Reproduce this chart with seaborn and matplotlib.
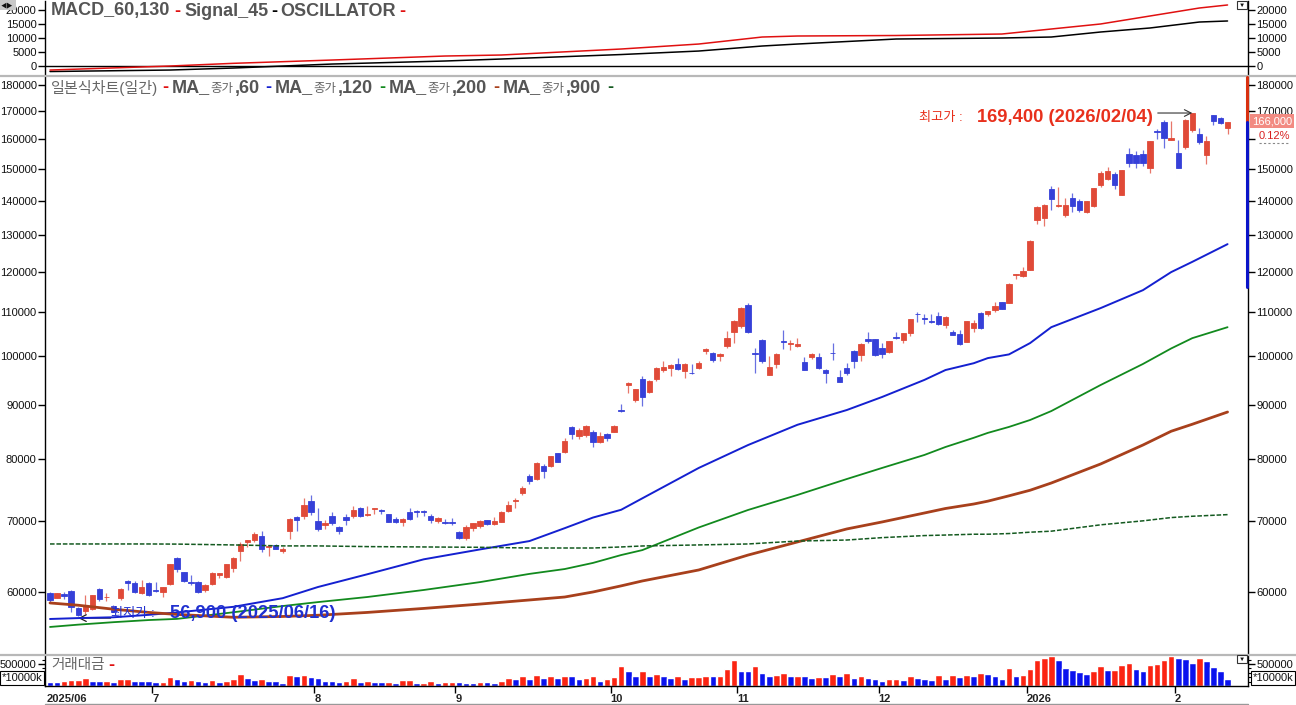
import numpy as np
import seaborn as sns
import matplotlib.pyplot as plt
from matplotlib.ticker import FixedLocator, FixedFormatter, NullLocator

# daily candles (won)
opens = [
    59900, 59250, 59750, 60100, 58000, 57550, 57800, 60400, 59300, 58200,
    59200, 61400, 61200, 59900, 61200, 60200, 60000, 61000, 64600, 62650,
    61300, 61300, 60300, 61000, 62300, 62000, 63200, 65600, 66900, 67100,
    67800, 66100, 66500, 65600, 68500, 70600, 70700, 73000, 70000, 69400,
    70800, 69000, 70600, 70700, 72000, 70900, 71800, 71700, 71000, 70300,
    69900, 71400, 71500, 71450, 70700, 69950, 69900, 69900, 68300, 67450,
    68950, 69200, 70150, 69500, 69900, 71500, 73100, 74300, 77200, 76600,
    78850, 78800, 81000, 81300, 85800, 84100, 84300, 84900, 83000, 84500,
    84900, 89100, 94000, 90900, 95200, 92500, 95200, 97100, 97500, 98400,
    96900, 96500, 97500, 101100, 100700, 100000, 102200, 105300, 106800, 111800,
    100800, 103600, 96100, 98300, 103400, 102800, 102300, 98800, 99800, 99800,
    97100, 100800, 95600, 97500, 101100, 100200, 103700, 103800, 101800, 100900,
    104300, 103600, 105100, 109700, 108700, 108000, 109100, 106900, 105400, 105000,
    103200, 106300, 109900, 109500, 110500, 112400, 112300, 119200, 119100, 120600,
    134400, 134900, 143700, 138400, 135800, 141000, 140000, 136700, 138600, 144900,
    146800, 148400, 141800, 155000, 154700, 155000, 150400, 162800, 166200, 159800,
    155400, 157500, 163300, 162000, 154700, 168600, 167600, 164000,
]
highs = [
    59950, 59900, 59950, 60200, 58100, 59600, 59650, 60500, 59900, 58300,
    60500, 61600, 61400, 61600, 61300, 61300, 60700, 63800, 64700, 62700,
    62250, 61400, 61000, 62600, 62550, 63800, 64700, 66800, 67200, 68300,
    68500, 66500, 66600, 66200, 70400, 70700, 73500, 74000, 71900, 70100,
    71300, 69200, 71000, 72300, 72100, 72300, 72000, 71800, 71100, 70600,
    70500, 72000, 71700, 71700, 71000, 70600, 70300, 70500, 68500, 69300,
    69700, 70100, 70200, 70600, 71500, 73000, 73500, 75500, 77500, 79500,
    79100, 80600, 81100, 83700, 85900, 85600, 86200, 85300, 84900, 84700,
    86200, 90100, 94500, 93200, 95800, 94900, 97600, 99000, 98300, 99600,
    98500, 98400, 98900, 101700, 101000, 100800, 105600, 108100, 111300, 112200,
    101800, 103800, 100000, 100600, 105900, 103600, 104000, 99800, 100800, 100800,
    97300, 103000, 97000, 98600, 101300, 102900, 105400, 103900, 103000, 103400,
    105400, 105200, 108500, 110000, 109600, 109600, 110000, 109000, 105800, 105800,
    108000, 108200, 110000, 110400, 112500, 112500, 117100, 119600, 121300, 128600,
    138600, 139000, 144700, 144300, 141000, 142400, 140600, 140100, 144100, 149400,
    150800, 149000, 149800, 157000, 156000, 156400, 159600, 163700, 166900, 166400,
    159700, 167100, 169400, 164000, 161000, 168800, 168000, 166200,
]
lows = [
    58700, 59200, 59100, 57400, 56900, 57200, 57700, 58900, 58900, 57400,
    59000, 60200, 59900, 59800, 59500, 60000, 59400, 60900, 62650, 61300,
    60900, 59900, 60000, 60900, 61800, 61900, 62600, 64200, 66200, 66900,
    65400, 64800, 65800, 65300, 67300, 68500, 70300, 70900, 68500, 68700,
    69300, 68100, 69400, 70400, 70600, 70800, 71100, 71000, 69800, 69600,
    69200, 70200, 70600, 70700, 69700, 69700, 69500, 69400, 67300, 67100,
    68500, 68900, 69400, 69400, 69800, 71300, 72000, 74000, 75800, 76500,
    76800, 78700, 79500, 81000, 83600, 83600, 83900, 82100, 82900, 83200,
    84800, 88600, 92300, 90600, 89800, 92400, 94800, 96700, 95800, 97100,
    95400, 96200, 97300, 100400, 98800, 99000, 101800, 103000, 106400, 105200,
    96400, 98500, 96000, 97500, 101500, 101300, 102100, 97000, 99300, 97300,
    94300, 99200, 94500, 96000, 97500, 99000, 102900, 100100, 99700, 100800,
    103800, 102900, 104500, 107700, 107200, 107400, 107100, 106200, 104600, 102500,
    103100, 105500, 106000, 109200, 110000, 110700, 112200, 118200, 118800, 120500,
    133200, 132500, 137300, 138300, 135300, 136700, 136700, 136500, 138200, 144300,
    146500, 143600, 141700, 150700, 150300, 151000, 148700, 160100, 157000, 159700,
    150300, 156800, 162700, 158400, 151800, 165000, 165500, 162000,
]
closes = [
    59000, 59850, 59500, 58050, 57100, 58180, 59600, 59100, 59400, 57450,
    60400, 61200, 60000, 60600, 59600, 60100, 60650, 63750, 63100, 61450,
    61150, 60000, 60900, 62500, 62500, 63700, 64600, 66600, 67100, 68000,
    65800, 66300, 65900, 65800, 70300, 70200, 72400, 71300, 68700, 69600,
    69700, 68500, 70100, 71600, 70700, 71000, 71900, 71500, 69900, 69900,
    70300, 70300, 71300, 71400, 70100, 70500, 69600, 69600, 67450, 69000,
    69600, 70000, 69450, 70000, 71350, 72450, 73300, 75150, 76300, 79400,
    78000, 80500, 79600, 83200, 84500, 85300, 86000, 83000, 84200, 83800,
    86000, 88900, 94300, 93100, 91500, 94800, 97500, 97700, 98100, 97300,
    98400, 96400, 98600, 101600, 99200, 100400, 104000, 108000, 111000, 105300,
    100500, 99000, 97600, 100400, 103200, 103000, 102600, 97100, 100400, 97500,
    96400, 100600, 94600, 96400, 99000, 102800, 103300, 100200, 100400, 103300,
    104100, 105100, 108400, 109500, 108500, 107800, 107200, 108900, 104700, 102700,
    107900, 107400, 106300, 110300, 111400, 110800, 117000, 119400, 120300, 128500,
    138200, 138900, 140600, 138800, 138900, 138600, 137300, 140000, 144000, 148700,
    149400, 144900, 149700, 152000, 152000, 152000, 159500, 162400, 160500, 160500,
    150400, 167000, 169400, 159100, 159400, 166500, 165800, 166000,
]

volumes = [
    91000, 91000, 114000, 137000, 137000, 175000, 114000, 114000, 114000, 91000,
    160000, 160000, 114000, 114000, 114000, 91000, 99000, 213000, 160000, 114000,
    137000, 114000, 91000, 137000, 91000, 114000, 160000, 274000, 175000, 137000,
    160000, 114000, 114000, 61000, 251000, 228000, 251000, 198000, 175000, 114000,
    114000, 91000, 114000, 175000, 91000, 114000, 91000, 91000, 91000, 76000,
    137000, 137000, 76000, 76000, 114000, 76000, 99000, 99000, 99000, 76000,
    76000, 99000, 99000, 76000, 114000, 175000, 160000, 220000, 160000, 243000,
    182000, 220000, 182000, 236000, 220000, 160000, 182000, 220000, 114000, 160000,
    198000, 456000, 334000, 236000, 334000, 220000, 274000, 236000, 182000, 236000,
    160000, 198000, 198000, 236000, 220000, 220000, 380000, 593000, 334000, 334000,
    456000, 296000, 236000, 251000, 296000, 220000, 220000, 220000, 182000, 198000,
    198000, 274000, 236000, 296000, 182000, 236000, 182000, 160000, 114000, 160000,
    160000, 137000, 228000, 182000, 160000, 137000, 258000, 160000, 243000, 205000,
    258000, 236000, 304000, 274000, 236000, 160000, 410000, 236000, 258000, 388000,
    593000, 631000, 669000, 593000, 410000, 372000, 319000, 274000, 350000, 456000,
    357000, 357000, 479000, 517000, 388000, 334000, 471000, 502000, 593000, 669000,
    631000, 608000, 517000, 631000, 570000, 433000, 334000, 160000,
]
# r/b for each volume bar
volume_colors = (
    "bbrrrrbbrb" "rrbbbbrrbb" "rbbrbrrrbb" "rbbbrbrbbb" "bbrrbrbbrb"
    "rrbrrbrrbb" "brbbrrbrbr" "brbrbbrrbr" "rrbbrbrbbr" "brrrbrrrbb"
    "rbbrrbrbbr" "brbrbrbbbr" "rbrbbbrbrb" "rbrbbbrbrr" "rrrbbbbbrr"
    "brrrbbrrrr" "bbbrbbbb"
)

# moving averages, read at these candle numbers
ma_days = [0, 4, 9, 14, 18, 26, 33, 38, 45, 53, 61, 68, 73, 77, 81, 84, 92, 99, 106, 113,
           118, 124, 127, 131, 133, 136, 139, 142, 149, 155, 159, 162, 167]
ma_60 = [56590, 56700, 56800, 57100, 57400, 58100, 59200, 60650, 62350, 64400,
         65800, 67000, 68900, 70500, 71700, 73500, 78500, 82500, 86200, 89000,
         91550, 95000, 97060, 98500, 99600, 100400, 102900, 106500, 111000, 115400,
         120000, 122700, 127500]
ma_120 = [55620, 55900, 56200, 56460, 56600, 57420, 58200, 58700, 59350, 60260,
          61300, 62400, 63060, 63900, 65000, 65700, 69000, 71670, 74040, 76640,
          78500, 80740, 82150, 83800, 84700, 85800, 87100, 88800, 93960, 98340,
          101700, 104000, 106500]
ma_200 = [58590, 58300, 57800, 57400, 57150, 56800, 56900, 57050, 57400, 57900,
          58450, 58970, 59350, 60000, 60800, 61450, 62930, 65000, 66870, 68780,
          69830, 71200, 71900, 72600, 73050, 73900, 74800, 75980, 79180, 82500,
          85000, 86300, 88620]
ma_900 = [66580, 66580, 66580, 66580, 66560, 66440, 66300, 66300, 66200, 66150,
          66100, 66000, 66000, 66000, 66150, 66290, 66440, 66580, 67000, 67150,
          67500, 67800, 67880, 68000, 68000, 68100, 68300, 68450, 69400, 70000,
          70500, 70700, 70950]

macd_days = [0, 17, 26, 40, 56, 64, 81, 92, 101, 106, 120, 135, 142, 149, 156, 163, 167]
macd = [-1430, 0, 960, 2140, 3570, 3930, 6070, 7850, 10350, 10710, 10890, 11420,
        13210, 15000, 17850, 20700, 21780]
signal = [-1960, -1430, -710, 710, 1790, 2500, 4100, 5350, 7140, 7850, 9640, 10000,
          10350, 12140, 13570, 15700, 16070]

price_ticks = [60000, 70000, 80000, 90000, 100000, 110000, 120000, 130000, 140000,
               150000, 160000, 170000, 180000]
macd_ticks = [0, 5000, 10000, 15000, 20000]
month_pos = [14.5, 37.5, 57.5, 79.5, 97.5, 117.5, 138.5, 159.5]
month_labels = ["7", "8", "9", "10", "11", "12", "2026", "2"]

W, H = 1296, 705
RED = "#e04a38"
BLUE = "#3640d8"
LEFT, RIGHT = 45, 1248


def panel(top, bottom):
    # axes from pixel box
    return fig.add_axes([LEFT / W, 1 - bottom / H, (RIGHT - LEFT) / W, (bottom - top) / H])


def label(x, y, s, **kw):
    kw.setdefault("va", "center")
    kw.setdefault("ha", "left")
    fig.text(x / W, 1 - y / H, s, **kw)


def rule(x0, y0, x1, y1, **kw):
    fig.add_artist(plt.Line2D([x0 / W, x1 / W], [1 - y0 / H, 1 - y1 / H], **kw))


sns.set_theme(style="white")
plt.rcParams["font.family"] = ["Liberation Sans", "Noto Sans CJK KR", "DejaVu Sans"]
plt.rcParams["axes.linewidth"] = 1.0

fig = plt.figure(figsize=(W / 100, H / 100), dpi=100, facecolor="white")
ax_macd = panel(1, 75)
ax = panel(77, 654)
ax_vol = panel(656, 686)

days = np.arange(len(closes))
xlim = (-0.71, 169.9)

# macd panel
sns.lineplot(x=macd_days, y=macd, ax=ax_macd, color="#e01010", linewidth=1.1, zorder=3)
sns.lineplot(x=macd_days, y=signal, ax=ax_macd, color="black", linewidth=1.1)
ax_macd.axhline(0, color="black", linewidth=1.0)
ax_macd.set_ylim(-3200, 23200)
ax_macd.yaxis.set_major_locator(FixedLocator(macd_ticks))

# candles
ax.set_yscale("log")
o = np.array(opens)
c = np.array(closes)
candle_colors = [RED if cl >= op else BLUE for op, cl in zip(opens, closes)]
ax.vlines(days, lows, highs, colors=candle_colors, linewidth=0.9, alpha=0.75, zorder=2)
ax.bar(days, np.abs(c - o), bottom=np.minimum(o, c), width=0.76, color=candle_colors,
       edgecolor=candle_colors, linewidth=0.6, zorder=3)

sns.lineplot(x=ma_days, y=ma_60, ax=ax, color="#1420d0", linewidth=1.4, zorder=4)
sns.lineplot(x=ma_days, y=ma_120, ax=ax, color="#128a1e", linewidth=1.3, zorder=4)
sns.lineplot(x=ma_days, y=ma_200, ax=ax, color="#a8401c", linewidth=2.0, zorder=4)
sns.lineplot(x=ma_days, y=ma_900, ax=ax, color="#145a20", linewidth=1.1,
             linestyle=(0, (3, 1.2)), zorder=4)
ax.set_ylim(52455, 183150)
ax.yaxis.set_major_locator(FixedLocator(price_ticks))
ax.yaxis.set_major_formatter(FixedFormatter([str(t) for t in price_ticks]))
ax.yaxis.set_minor_locator(NullLocator())

# volume
bar_hue = list(volume_colors)
sns.barplot(x=days, y=volumes, hue=bar_hue, palette={"r": "#fb2412", "b": "#0a12ee"},
            ax=ax_vol, native_scale=True, dodge=False, width=0.94, saturation=1, legend=False)
ax_vol.set_ylim(0, 680000)

for a in (ax_macd, ax, ax_vol):
    a.set_xlim(*xlim)
    a.set_xlabel("")
    a.set_ylabel("")
    for s in a.spines.values():
        s.set_visible(False)
    a.spines["left"].set_visible(True)
    a.spines["left"].set_color("black")
    a.spines["right"].set_visible(True)
    a.spines["right"].set_color("black")

ax_vol.spines["bottom"].set_visible(True)
ax_vol.spines["bottom"].set_color("black")
ax_vol.set_xticks(month_pos)
ax_vol.set_xticklabels([""] * len(month_pos))
ax_vol.set_yticks([500000], ["500000"])
ax_vol.set_yticks([100000, 200000, 300000, 400000, 600000], minor=True)

for a in (ax_macd, ax, ax_vol):
    a.tick_params(axis="y", which="major", left=True, right=True, labelleft=True, labelright=True,
                  length=5, width=1, color="black", labelsize=8, labelcolor="#111111", pad=1)
    a.tick_params(axis="x", which="both", bottom=False, labelbottom=False)
ax_vol.tick_params(axis="y", which="minor", left=True, right=True, length=2.5, width=0.8, color="black")
ax_vol.tick_params(axis="x", which="major", bottom=True, length=5, width=1, color="black")

# 160000 is hidden on the right by the price marker
for tick, value in zip(ax.yaxis.get_major_ticks(), price_ticks):
    if value == 160000:
        tick.label2.set_visible(False)

# panel separators
rule(0, 75.5, W, 75.5, color="#b8b8b8", linewidth=1.6)
rule(0, 654.5, W, 654.5, color="#b8b8b8", linewidth=1.6)
rule(45, 703.5, 1248, 703.5, color="#999999", linewidth=1)

# month labels sit just right of their ticks
label(47, 699, "2025/06", fontsize=8, fontweight="bold", color="#222222")
for pos, m in zip(month_pos, month_labels):
    label(50 + 7.05 * pos, 699, m, fontsize=8, fontweight="bold", color="#222222")

# legends
HDR = "#555555"
BIG = 13.0
label(51, 11, "MACD_60,130", fontsize=BIG, fontweight="bold", color=HDR)
label(174, 11, "-", fontsize=BIG, fontweight="bold", color="#e01010")
label(184, 11, "Signal_45", fontsize=BIG, fontweight="bold", color=HDR)
label(271, 11, "-", fontsize=BIG, fontweight="bold", color="black")
label(280, 11, "OSCILLATOR", fontsize=BIG, fontweight="bold", color=HDR)
label(399, 11, "-", fontsize=BIG, fontweight="bold", color="#e01010")

label(51, 88, "일본식차트(일간)", fontsize=10.9, color="#666666")
label(162, 88, "-", fontsize=BIG, fontweight="bold", color="#e01010")
for x, tail, dash_x, col in [(172, ",60", 265, "#1420d0"), (275, ",120", 379, "#128a1e"),
                             (389, ",200", 493, "#a8401c"), (503, ",900", 607, "#145a20")]:
    label(x, 88, "MA_", fontsize=BIG, fontweight="bold", color=HDR)
    label(x + 38, 89, "종가", fontsize=9, color="#666666")
    label(x + 63, 88, tail, fontsize=BIG, fontweight="bold", color=HDR)
    label(dash_x, 88, "-", fontsize=BIG, fontweight="bold", color=col)

label(51, 665, "거래대금", fontsize=10.5, color="#666666")
label(108, 665, "-", fontsize=BIG, fontweight="bold", color="#e01010")

# high / low notes
label(919, 118, "최고가 : ", fontsize=9.5, color="#e8301c")
label(977, 118, "169,400 (2026/02/04)", fontsize=13.2, fontweight="bold", color="#e8301c")
label(111, 614, "최저가 : ", fontsize=9.5, color="#2030d0")
label(170, 614, "56,900 (2025/06/16)", fontsize=13.2, fontweight="bold", color="#2030d0")
ax.annotate("", xy=(162, 169400), xytext=(157.1, 169400),
            arrowprops=dict(arrowstyle="->", color="#333333", linewidth=0.8, shrinkA=0, shrinkB=0))
ax.annotate("", xy=(4, 56700), xytext=(8.6, 56700),
            arrowprops=dict(arrowstyle="->", color="#222222", linewidth=0.9, shrinkA=0, shrinkB=0))

# current price marker on right edge
rule(1246.5, 77, 1246.5, 122, color="#d83010", linewidth=2.2)
rule(1246.5, 122, 1246.5, 287, color="#0b14c8", linewidth=2.2)
label(1272, 121, "166,000", fontsize=8, ha="center", color="white",
      bbox=dict(boxstyle="square,pad=0.2", facecolor="#f28b82", edgecolor="none"))
label(1274, 136, "0.12%", fontsize=8, ha="center", color="#d82020")
rule(1259, 143, 1290, 143, color="#888888", linewidth=0.8, linestyle=(0, (2, 2)))

# *10000k boxes
box = dict(boxstyle="square,pad=0.15", facecolor="white", edgecolor="black", linewidth=0.8)
label(2, 678, "*10000k", fontsize=8, color="#111111", bbox=box)
label(1253, 678, "*10000k", fontsize=8, color="#111111", bbox=box)

# little window buttons
label(1, 5, "◀▶", fontsize=4.5, color="#111111",
      bbox=dict(boxstyle="square,pad=0.35", facecolor="#c8c8c8", edgecolor="none"))
small = dict(boxstyle="square,pad=0.3", facecolor="white", edgecolor="#333333", linewidth=0.8)
label(1242, 5, "▼", fontsize=4.5, ha="center", color="#111111", bbox=small)
label(1242, 659, "▼", fontsize=4.5, ha="center", color="#111111", bbox=small)

fig.savefig("out.png", dpi=100)
